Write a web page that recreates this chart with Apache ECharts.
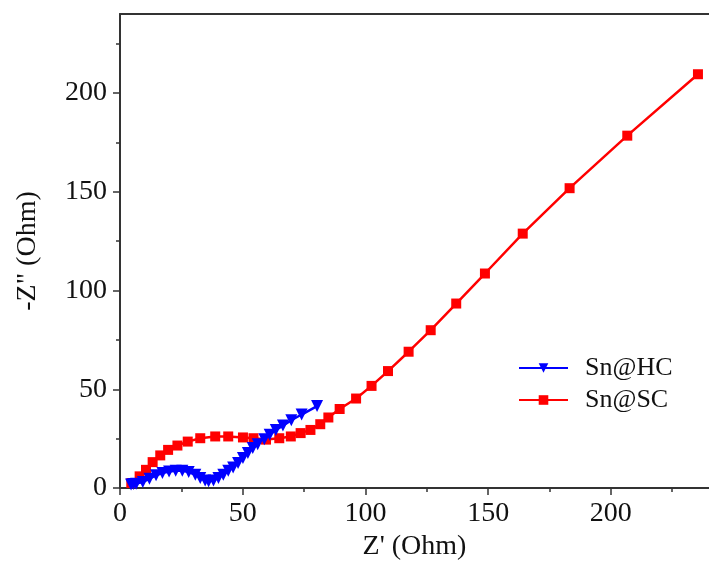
<!DOCTYPE html>
<html>
<head>
<meta charset="utf-8">
<script src="https://cdn.jsdelivr.net/npm/echarts@6/dist/echarts.min.js"></script>
<style>html,body{margin:0;padding:0;background:#fff;}#c{width:709px;height:567px;}</style>
</head>
<body>
<div id="c"></div>
<script>
// Sn@HC (blue, down triangles)
var hcX = [4.5,5.5,6.6,9.3,12.0,14.7,17.3,20.0,22.7,25.4,28.0,30.7,32.7,34.7,36.1,38.1,40.1,42.1,44.1,46.1,48.1,50.1,52.1,54.1,56.1,58.8,61.0,63.5,66.4,69.8,74.0,80.3];
var hcY = [1.8,2.0,2.2,3.0,4.7,6.4,7.6,8.4,8.7,8.7,8.1,6.7,5.1,3.8,3.4,3.8,5.1,6.7,8.7,10.4,12.6,15.2,17.7,20.2,22.2,24.7,27.0,29.4,31.6,34.3,37.2,41.5];
// Sn@SC (red, squares)
var scX = [4.6,8.0,10.6,13.3,16.4,19.6,23.4,27.6,32.7,38.8,44.1,50.1,54.4,59.5,64.9,69.6,73.6,77.6,81.6,84.9,89.5,96.2,102.5,109.2,117.6,126.6,137.0,148.7,164.1,183.2,206.7,235.5];
var scY = [2.5,5.9,9.2,13.1,16.5,19.3,21.5,23.5,25.2,26.1,26.1,25.6,25.2,24.5,25.2,26.1,27.8,29.4,32.3,35.7,40.0,45.3,51.7,59.2,69.0,79.9,93.4,108.6,128.8,151.8,178.4,209.5];
var seriesNames = ['Sn@HC', 'Sn@SC'];
var xMajor = [0,50,100,150,200];
var xMinor = [25,75,125,175,225];
var yMajor = [0,50,100,150,200];
var yMinor = [25,75,125,175,225];

function pairs(xs, ys){ return xs.map(function(x,i){ return [x, ys[i]]; }); }

var FONT = 'Liberation Serif';
var axisColor = '#333';
var chart = echarts.init(document.getElementById('c'), null, {renderer:'canvas'});
chart.setOption({
  animation: false,
  backgroundColor: '#fff',
  textStyle: {fontFamily: FONT},
  grid: {left: 120, right: -10, top: 14, bottom: 79, containLabel: false},
  legend: {
    orient: 'vertical', left: 518, top: 355, padding: 0,
    data: seriesNames,
    itemWidth: 49, itemHeight: 12, itemGap: 6,
    textStyle: {fontFamily: FONT, fontSize: 26, color: '#111', lineHeight: 26, padding: [0,0,0,12]}
  },
  xAxis: [
    {type:'value', position:'bottom', min:0, max:240, interval:50,
     name: "Z' (Ohm)", nameLocation:'middle', nameGap: 44,
     nameTextStyle:{fontFamily:FONT, fontSize:28, color:'#111'},
     axisLine:{show:true, onZero:false, lineStyle:{color:axisColor, width:2}},
     axisTick:{show:true, inside:false, length:7, customValues:xMajor, lineStyle:{color:axisColor, width:1.5}},
     axisLabel:{customValues:xMajor, margin:12, fontFamily:FONT, fontSize:28, color:'#111'},
     splitLine:{show:false}},
    {type:'value', position:'bottom', min:0, max:240, interval:25,
     axisLine:{show:false, onZero:false},
     axisTick:{show:true, length:4, customValues:xMinor, lineStyle:{color:axisColor, width:1.5}},
     axisLabel:{show:false}, splitLine:{show:false}},
    {type:'value', position:'top', min:0, max:240,
     axisLine:{show:true, onZero:false, lineStyle:{color:axisColor, width:2}},
     axisTick:{show:false}, axisLabel:{show:false}, splitLine:{show:false}}
  ],
  yAxis: [
    {type:'value', position:'left', min:0, max:240, interval:50,
     name: '-Z" (Ohm)', nameLocation:'middle', nameGap: 78,
     nameTextStyle:{fontFamily:FONT, fontSize:28, color:'#111'},
     axisLine:{show:true, onZero:false, lineStyle:{color:axisColor, width:2}},
     axisTick:{show:true, length:7, customValues:yMajor, lineStyle:{color:axisColor, width:1.5}},
     axisLabel:{customValues:yMajor, margin:13, fontFamily:FONT, fontSize:28, color:'#111'},
     splitLine:{show:false}},
    {type:'value', position:'left', min:0, max:240, interval:25,
     axisLine:{show:false, onZero:false},
     axisTick:{show:true, length:4, customValues:yMinor, lineStyle:{color:axisColor, width:1.5}},
     axisLabel:{show:false}, splitLine:{show:false}}
  ],
  series: [
    {name: seriesNames[1], type:'line', xAxisIndex:0, yAxisIndex:0,
     data: pairs(scX, scY), symbol:'rect', symbolSize:10, showAllSymbol:true,
     lineStyle:{color:'#ff0000', width:2.5}, itemStyle:{color:'#ff0000'}},
    {name: seriesNames[0], type:'line', xAxisIndex:0, yAxisIndex:0,
     data: pairs(hcX, hcY), symbol:'triangle', symbolRotate:180, symbolSize:12, showAllSymbol:true,
     lineStyle:{color:'#0000ff', width:2.5}, itemStyle:{color:'#0000ff'}}
  ]
});
</script>
</body>
</html>
